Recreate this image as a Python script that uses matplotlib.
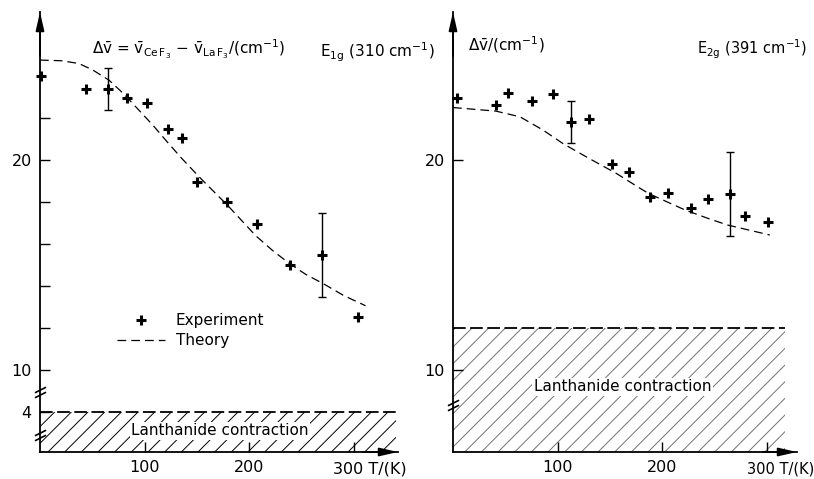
import numpy as np
import matplotlib
matplotlib.use('Agg')
import matplotlib.pyplot as plt
from matplotlib.path import Path
from matplotlib.lines import Line2D
from matplotlib.legend_handler import HandlerLine2D

plt.rcParams['font.family'] = 'DejaVu Sans'
plt.rcParams['mathtext.fontset'] = 'dejavusans'
plt.rcParams['mathtext.default'] = 'regular'
plt.rcParams['hatch.linewidth'] = 0.7

# E1g (310 cm-1): measured shift vs temperature
t_e1g = [1, 44, 65, 83, 102, 122, 136, 150, 179, 207, 239, 269, 304]
dv_e1g = [24.0, 23.37, 23.37, 22.97, 22.7, 21.5, 21.03, 18.97, 17.99, 16.95, 15.0, 15.48, 12.54]
t_err_e1g = [65, 269]
dv_err_e1g = [23.37, 15.48]
err_e1g = [1.0, 2.0]
# theory curve E1g
t_th_e1g = [0, 20, 37, 50, 66, 80, 94, 108, 120, 135, 152, 165, 180, 193, 206, 222, 238, 254, 270, 290, 311]
dv_th_e1g = [24.76, 24.73, 24.6, 24.3, 23.8, 23.15, 22.4, 21.65, 20.95, 20.1, 19.2, 18.55, 17.8, 17.1, 16.4,
             15.7, 15.08, 14.55, 14.13, 13.55, 13.06]

# E2g (391 cm-1)
t_e2g = [4, 41, 53, 76, 96, 113, 130, 152, 168, 188, 206, 228, 244, 265, 279, 301]
dv_e2g = [22.97, 22.62, 23.17, 22.81, 23.13, 21.83, 21.94, 19.8, 19.43, 18.22, 18.41, 17.7, 18.14, 18.37,
          17.35, 17.06]
t_err_e2g = [113, 265]
dv_err_e2g = [21.83, 18.4]
err_e2g = [1.0, 2.0]
t_th_e2g = [0, 41, 64, 86, 105, 130, 156, 179, 187, 205, 222, 245, 263, 280, 303]
dv_th_e2g = [22.5, 22.33, 22.06, 21.43, 20.79, 20.08, 19.37, 18.65, 18.41, 18.0, 17.62, 17.2, 16.9, 16.7, 16.43]

# lanthanide contraction levels
lc_e1g = 4
lc_e2g = 12

# broken y axis: real value -> drawn position
brk_real = [0, 4, 10, 40]
brk_pos = [6.095, 8.02, 10, 40]


def fwd(v):
    return np.interp(v, brk_real, brk_pos)


def inv(p):
    return np.interp(p, brk_pos, brk_real)


brk_marker = Path([(-1, -0.95), (1, 0.05), (-1, -0.05), (1, 0.95)],
                  [Path.MOVETO, Path.LINETO, Path.MOVETO, Path.LINETO])


class RightMarker(HandlerLine2D):
    # marker sits near the right end of the legend handle
    def get_xdata(self, legend, xdescent, ydescent, width, height, fontsize):
        xm = -xdescent + 0.85 * width
        return [-xdescent, -xdescent + width], [xm]


fig = plt.figure(figsize=(8.14, 4.79), dpi=100)
W, H = 814., 479.
ax1 = fig.add_axes([40 / W, 27 / H, 358 / W, 440 / H])
ax2 = fig.add_axes([453 / W, 27 / H, 344 / W, 440 / H])

dash_th = (0, (7, 4))
fs = 11.5


def setup(ax, xmax, lc, lc_end, hatch_col, breaks, lab300, off300):
    ax.set_yscale('function', functions=(fwd, inv))
    ax.set_xlim(0, xmax)
    ax.set_ylim(0, 27.05)
    for s in ['top', 'right']:
        ax.spines[s].set_visible(False)
    for s in ['left', 'bottom']:
        ax.spines[s].set_linewidth(1.3)
    ax.tick_params(direction='in', length=7, width=1.0, labelsize=fs, pad=6)
    ax.set_xticks([100, 200, 300])
    ax.set_xticklabels(['100', '200', ''])
    # arrows on axes
    ax.annotate('', xy=(0, 1), xytext=(0, 0.9), xycoords='axes fraction',
                arrowprops=dict(arrowstyle='-|>,head_length=1.1,head_width=0.25', color='k',
                                lw=1.3, shrinkA=0, shrinkB=0))
    ax.annotate('', xy=(1, 0), xytext=(0.9, 0), xycoords='axes fraction',
                arrowprops=dict(arrowstyle='-|>,head_length=1.1,head_width=0.25', color='k',
                                lw=1.3, shrinkA=0, shrinkB=0))
    ax.annotate('300 T/(K)', xy=(300, 0), xycoords=('data', 'axes fraction'),
                xytext=(off300, -9), textcoords='offset pixels', ha='left', va='top', fontsize=lab300)
    # lanthanide contraction band
    ax.fill_between([0, lc_end], 0, lc, facecolor='none', edgecolor=hatch_col, hatch='//', linewidth=0)
    ax.plot([0, lc_end], [lc, lc], color='k', lw=1.3, ls=(0, (7, 2.5)))
    for b in breaks:
        ax.plot([0], [b], marker=brk_marker, ms=8, mew=1.2, color='k',
                transform=ax.get_yaxis_transform(), clip_on=False)


setup(ax1, 342, lc_e1g, 340, 'k', [6.86, 1.7], fs, -21)
setup(ax2, 329, lc_e2g, 318, '0.45', [5.0], 10.5, -20)

ax1.set_yticks([4, 10, 12, 14, 16, 18, 20, 22])
ax1.set_yticklabels(['4', '10', '', '', '', '', '20', ''])
ax2.set_yticks([10, 20])
ax2.set_yticklabels(['10', '20'])

# left panel
ax1.plot(t_th_e1g, dv_th_e1g, color='k', lw=0.9, ls=dash_th)
ax1.errorbar(t_err_e1g, dv_err_e1g, yerr=err_e1g, fmt='none', ecolor='k', elinewidth=1.0,
             capsize=3, capthick=1.0)
ax1.plot(t_e1g, dv_e1g, ls='none', marker='+', ms=7, mew=2.2, color='k', clip_on=False)

ax1.text(0.145, 0.914, r'$\Delta\bar{\mathrm{v}}$ = $\bar{\mathrm{v}}_{\mathrm{Ce\,F_3}}$ $-$ '
         r'$\bar{\mathrm{v}}_{\mathrm{La\,F_3}}$/(cm$^{-1}$)',
         transform=ax1.transAxes, va='center', ha='left', fontsize=11)
ax1.text(0.782, 0.909, r'E$_{1g}$ (310 cm$^{-1}$)', transform=ax1.transAxes,
         va='center', ha='left', fontsize=11, clip_on=False)
ax1.text(172, 2.1, 'Lanthanide contraction', ha='center', va='center', fontsize=11,
         bbox=dict(facecolor='white', edgecolor='none', pad=1))

h_exp = Line2D([], [], ls='none', marker='+', ms=7, mew=2.2, color='k')
h_th = Line2D([], [], ls=dash_th, lw=0.9, color='k')
ax1.legend([h_exp, h_th], ['Experiment', 'Theory'], loc='upper left', bbox_to_anchor=(0.215, 0.315),
           frameon=False, handlelength=3.15, handletextpad=0.7, labelspacing=0.32,
           fontsize=11, borderpad=0, borderaxespad=0,
           handler_map={h_exp: RightMarker(numpoints=1)})

# right panel
ax2.plot(t_th_e2g, dv_th_e2g, color='k', lw=0.9, ls=dash_th)
ax2.errorbar(t_err_e2g, dv_err_e2g, yerr=err_e2g, fmt='none', ecolor='k', elinewidth=1.0,
             capsize=3, capthick=1.0)
ax2.plot(t_e2g, dv_e2g, ls='none', marker='+', ms=7, mew=2.2, color='k', clip_on=False)

ax2.text(0.044, 0.925, r'$\Delta\bar{\mathrm{v}}$/(cm$^{-1}$)', transform=ax2.transAxes,
         va='center', ha='left', fontsize=11)
ax2.text(0.71, 0.914, r'E$_{2g}$ (391 cm$^{-1}$)', transform=ax2.transAxes,
         va='center', ha='left', fontsize=10.5, clip_on=False)
ax2.text(162, 7.6, 'Lanthanide contraction', ha='center', va='center', fontsize=11,
         bbox=dict(facecolor='white', edgecolor='none', pad=1))

fig.savefig('out.png', dpi=100)
